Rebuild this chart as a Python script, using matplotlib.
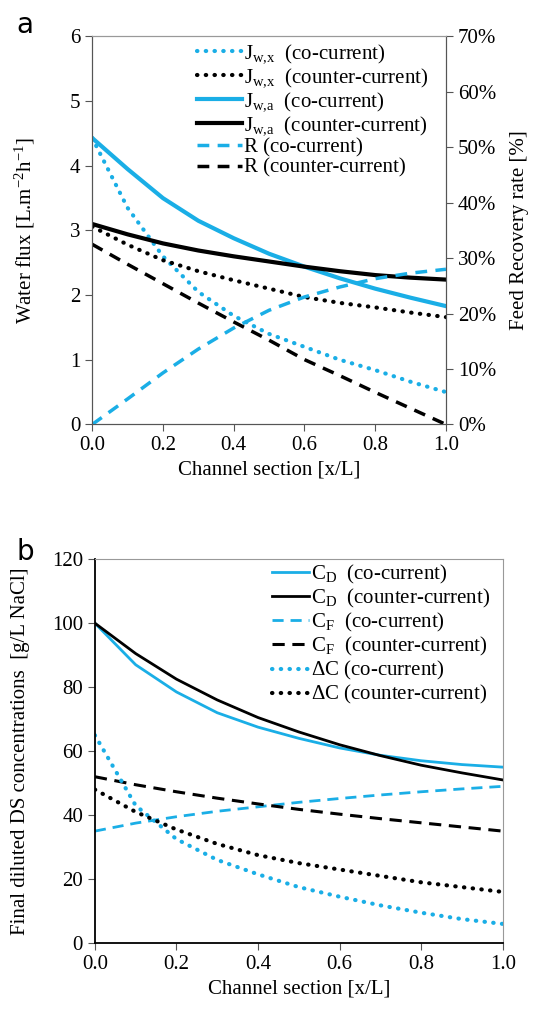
import matplotlib
matplotlib.use("Agg")
import matplotlib.pyplot as plt
from matplotlib.ticker import FuncFormatter

plt.rcParams['font.family'] = ['Liberation Serif', 'DejaVu Serif']
plt.rcParams['mathtext.fontset'] = 'custom'
plt.rcParams['mathtext.rm'] = 'Liberation Serif'
plt.rcParams['mathtext.it'] = 'Liberation Serif:italic'

BLUE = '#1AAEE6'

# panel a data
x = [0.0, 0.1, 0.2, 0.3, 0.4, 0.5, 0.6, 0.7, 0.8, 0.9, 1.0]
jwx_co = [4.43, 3.35, 2.6, 2.05, 1.68, 1.4, 1.2, 1.0, 0.84, 0.66, 0.5]
jwx_counter = [3.06, 2.78, 2.54, 2.37, 2.23, 2.1, 1.97, 1.88, 1.81, 1.73, 1.66]
jwa_co = [4.43, 3.95, 3.5, 3.15, 2.88, 2.64, 2.44, 2.26, 2.1, 1.96, 1.83]
jwa_counter = [3.1, 2.94, 2.8, 2.69, 2.6, 2.52, 2.44, 2.37, 2.31, 2.27, 2.24]
r_co = [0.0, 4.6, 9.3, 13.6, 17.4, 20.6, 23.0, 24.8, 26.3, 27.3, 28.0]
r_counter = [32.5, 28.9, 25.4, 21.9, 18.5, 15.2, 11.7, 8.8, 5.8, 2.9, 0.0]

# panel b data
cd_co = [100, 87, 78.5, 72, 67.5, 64, 61, 58.7, 57, 55.8, 55]
cd_counter = [100, 90.5, 82.5, 76, 70.5, 66, 62, 58.6, 55.6, 53.2, 51]
cf_co = [35, 37.5, 39.5, 41.2, 42.6, 44, 45.2, 46.3, 47.3, 48.2, 49]
cf_counter = [52, 49.5, 47.3, 45.3, 43.5, 41.8, 40.3, 38.9, 37.6, 36.3, 35]
dc_co = [65, 43, 32.5, 26, 21.5, 17.5, 14.5, 11.8, 9.5, 7.5, 6]
dc_counter = [48, 41, 35.5, 31, 27.5, 25, 23, 21, 19, 17.5, 16]

FS = 15
dot = (0, (0.1, 2.0))

fig = plt.figure(figsize=(5.36, 10.13), dpi=100)

# ---------- panel a ----------
ax = fig.add_axes([0.172, 0.581, 0.660, 0.383])
ax2 = ax.twinx()
h1, = ax.plot(x, jwx_co, color=BLUE, lw=3, linestyle=dot, dash_capstyle='round')
h2, = ax.plot(x, jwx_counter, color='black', lw=3, linestyle=dot, dash_capstyle='round')
h3, = ax.plot(x, jwa_co, color=BLUE, lw=3)
h4, = ax.plot(x, jwa_counter, color='black', lw=3)
h5, = ax2.plot(x, r_co, color=BLUE, lw=2.5, linestyle=(0, (3.4, 2.4)))
h6, = ax2.plot(x, r_counter, color='black', lw=2.5, linestyle=(0, (3.4, 2.4)))

ax.set_xlim(0, 1)
ax.set_ylim(0, 6)
ax2.set_ylim(0, 70)
ax.set_xticks([0, 0.2, 0.4, 0.6, 0.8, 1.0])
ax.set_xticklabels(['0.0', '0.2', '0.4', '0.6', '0.8', '1.0'])
ax2.set_yticks(range(0, 71, 10))
ax2.yaxis.set_major_formatter(FuncFormatter(lambda v, p: '%d%%' % v))
for a in (ax, ax2):
    a.tick_params(labelsize=FS, direction='out', length=5, color='#555555')
    for s in a.spines.values():
        s.set_color('#555555')
    a.spines['top'].set_color('#999999')
ax.set_xlabel('Channel section [x/L]', fontsize=FS)
ax.set_ylabel('Water flux [L.m$^{-2}$h$^{-1}$]', fontsize=FS, labelpad=24)
ax2.set_ylabel('Feed Recovery rate [%]', fontsize=FS, labelpad=10)

labels_a = [r'$\mathregular{J_{\text{w,x}}}$  (co-current)',
            r'$\mathregular{J_{\text{w,x}}}$  (counter-current)',
            r'$\mathregular{J_{\text{w,a}}}$  (co-current)',
            r'$\mathregular{J_{\text{w,a}}}$  (counter-current)',
            'R (co-current)', 'R (counter-current)']
ax2.legend([h1, h2, h3, h4, h5, h6], labels_a, loc='upper left',
           bbox_to_anchor=(0.295, 0.985), frameon=False, fontsize=FS,
           borderpad=0, borderaxespad=0, labelspacing=0.05,
           handlelength=2.2, handletextpad=0.1)

fig.text(0.03, 0.975, 'a', fontsize=20, family='DejaVu Sans', va='center')

# ---------- panel b ----------
bx = fig.add_axes([0.177, 0.069, 0.761, 0.379])
g1, = bx.plot(x, cd_co, color=BLUE, lw=2)
g2, = bx.plot(x, cd_counter, color='black', lw=2)
g3, = bx.plot(x, cf_co, color=BLUE, lw=2, linestyle=(0, (4, 2.5)))
g4, = bx.plot(x, cf_counter, color='black', lw=2.2, linestyle=(0, (4, 2.5)))
g5, = bx.plot(x, dc_co, color=BLUE, lw=3, linestyle=dot, dash_capstyle='round')
g6, = bx.plot(x, dc_counter, color='black', lw=3, linestyle=dot, dash_capstyle='round')

bx.set_xlim(0, 1)
bx.set_ylim(0, 120)
bx.set_xticks([0, 0.2, 0.4, 0.6, 0.8, 1.0])
bx.set_xticklabels(['0.0', '0.2', '0.4', '0.6', '0.8', '1.0'])
bx.set_yticks(range(0, 121, 20))
bx.tick_params(labelsize=FS, direction='out', length=5, color='#555555')
bx.spines['left'].set_color('black')
bx.spines['bottom'].set_color('black')
bx.spines['top'].set_color('#999999')
bx.spines['right'].set_color('#999999')
bx.spines['left'].set_linewidth(1.3)
bx.spines['bottom'].set_linewidth(1.3)
bx.set_xlabel('Channel section [x/L]', fontsize=FS)
bx.set_ylabel('Final diluted DS concentrations  [g/L NaCl]', fontsize=FS, labelpad=16)

labels_b = [r'$\mathregular{C_D}$  (co-current)',
            r'$\mathregular{C_D}$  (counter-current)',
            r'$\mathregular{C_F}$  (co-current)',
            r'$\mathregular{C_F}$  (counter-current)',
            r'$\mathregular{\Delta}$C (co-current)',
            r'$\mathregular{\Delta}$C (counter-current)']
bx.legend([g1, g2, g3, g4, g5, g6], labels_b, loc='upper left',
          bbox_to_anchor=(0.434, 0.99), frameon=False, fontsize=FS,
          borderpad=0, borderaxespad=0, labelspacing=0.05,
          handlelength=1.8, handletextpad=0.1)

fig.text(0.03, 0.455, 'b', fontsize=20, family='DejaVu Sans', va='center')

fig.savefig('out.png', dpi=100)
